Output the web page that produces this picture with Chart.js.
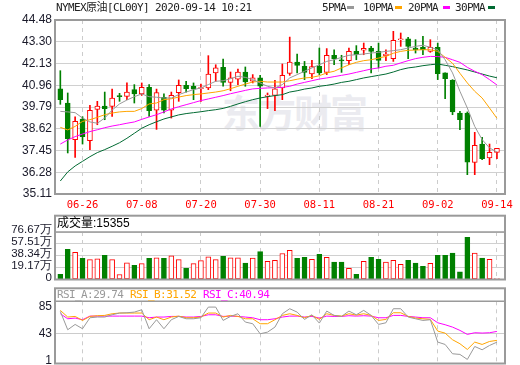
<!DOCTYPE html>
<html>
<head>
<meta charset="utf-8">
<script src="https://cdn.jsdelivr.net/npm/chart.js@4.4.1/dist/chart.umd.min.js"></script>
<style>
body { margin:0; background:#fff; width:520px; height:365px; overflow:hidden; position:relative; }
canvas { position:absolute; left:0; }
.t { position:absolute; white-space:nowrap; font-family:"DejaVu Sans Mono","Noto Sans CJK SC",monospace; font-size:11px; letter-spacing:-0.6px; line-height:12px; }
.sq { position:absolute; width:7px; height:3px; }
#wm { position:absolute; left:222px; top:83px; font:bold 38px "Noto Sans CJK SC"; color:#ebebf0; letter-spacing:-2px; }
</style>
</head>
<body>
<div id="wm">东方财富</div>
<canvas id="main" width="520" height="215" style="top:0"></canvas>
<canvas id="vol" width="520" height="75" style="top:210px"></canvas>
<canvas id="rsi" width="520" height="80" style="top:285px"></canvas>

<div class="t" style="left:56px;top:2px;color:#222">NYMEX原油[CL00Y] 2020-09-14 10:21</div>
<div class="t" style="left:322px;top:2px;color:#222">5PMA</div><div class="sq" style="left:347px;top:6px;background:#999"></div>
<div class="t" style="left:363px;top:2px;color:#222">10PMA</div><div class="sq" style="left:395px;top:6px;background:#ffa500"></div>
<div class="t" style="left:408px;top:2px;color:#222">20PMA</div><div class="sq" style="left:443px;top:6px;background:#ff00ff"></div>
<div class="t" style="left:455px;top:2px;color:#222">30PMA</div><div class="sq" style="left:488px;top:6px;background:#006a32"></div>

<div class="t" style="left:57px;top:217px;color:#000;font-family:'Liberation Sans','Noto Sans CJK SC';font-size:12px;letter-spacing:0">成交量:15355</div>

<div class="t" style="left:57px;top:289px;color:#999">RSI_A:29.74</div>
<div class="t" style="left:130px;top:289px;color:#ffa500">RSI_B:31.52</div>
<div class="t" style="left:203px;top:289px;color:#ff00ff">RSI_C:40.94</div>

<script>
// 数据
const tickIdx = [3, 11, 19, 27, 35, 43, 51, 59];
const tickLabels = ['06-26', '07-08', '07-20', '07-30', '08-11', '08-21', '09-02', '09-14'];
const priceTicks = [44.48, 43.30, 42.13, 40.96, 39.79, 38.62, 37.45, 36.28, 35.11];
const volTicks = [0, 19.17, 38.34, 57.51, 76.67];
const rsiTicks = [1, 43, 85];

const opens = [40.78,40.01,38.04,39.15,37.98,39.67,39.85,39.83,40.41,40.37, 40.73,40.50,40.85,39.63,40.32,39.62,40.57,40.96,40.91,40.78,
  40.82,41.63,41.93,41.12,41.29,41.68,41.18,41.36,40.37,40.42, 40.82,41.61,42.22,41.99,41.57,41.99,41.66,42.58,42.33,42.29,
  42.79,42.85,42.97,42.79,42.56,42.40,43.42,43.46,42.97,43.01, 42.79,43.01,41.63,41.23,39.47,39.47,36.81,37.80,37.05,37.35];
const highs = [41.75,40.55,39.26,39.27,39.88,40.10,40.60,40.76,40.53,41.09, 41.00,41.09,41.00,40.76,40.50,40.60,41.25,41.18,41.09,41.03,
  42.56,42.07,42.38,41.68,41.84,41.95,41.54,41.50,40.55,41.23, 42.11,43.56,42.65,42.25,42.31,42.97,42.94,42.88,42.58,42.97,
  43.10,43.24,43.06,43.24,42.88,43.87,43.78,43.55,43.42,43.60, 43.42,43.24,41.63,41.27,39.56,39.53,38.43,38.16,37.80,37.57];
const lows = [39.94,37.32,37.08,37.80,37.50,38.84,39.11,39.29,40.10,40.19, 40.01,40.42,39.29,38.59,39.47,39.20,40.10,40.60,40.19,40.10,
  40.73,41.18,40.91,40.67,41.00,40.91,41.09,38.75,39.71,39.60, 40.19,41.50,41.63,41.27,41.32,41.54,41.54,42.07,41.66,42.07,
  42.34,42.61,41.63,41.90,42.29,42.25,43.06,42.40,42.70,42.61, 42.74,41.27,40.24,39.38,38.57,36.15,36.15,36.96,36.69,37.01];
const closes = [40.19,38.09,39.02,38.20,39.62,39.85,39.71,40.28,40.35,40.60, 40.50,40.85,39.60,40.57,39.63,40.42,40.96,40.78,40.76,40.84,
  41.57,41.90,41.12,41.36,41.68,41.14,41.36,40.91,40.44,40.78, 41.50,42.22,42.04,41.66,41.97,41.63,42.58,42.40,42.27,42.79,
  42.61,42.95,42.79,42.31,42.65,43.38,43.46,43.06,42.88,42.88, 43.01,41.59,41.32,39.53,39.11,36.83,37.73,37.01,37.35,37.57];

const ma5 = [39.56,39.53,39.49,39.20,38.99,38.92,39.20,39.63,39.96,40.17, 40.35,40.50,40.35,40.32,40.28,40.28,40.46,40.60,40.73,40.82,
  41.00,41.18,41.21,41.32,41.45,41.39,41.27,41.09,40.91,40.82, 41.00,41.36,41.54,41.72,41.90,42.07,42.25,42.34,42.47,42.58,
  42.61,42.65,42.70,42.74,42.79,42.83,42.88,42.97,43.06,43.12, 43.01,42.88,42.34,41.63,40.64,39.74,38.75,38.04,37.59,37.37];
const ma10 = [38.70,38.56,38.75,39.02,39.11,39.24,39.38,39.47,39.53,39.56, 39.56,39.71,39.96,40.01,40.19,40.24,40.33,40.41,40.46,40.50,
  40.55,40.60,40.67,40.78,40.91,41.03,41.14,41.18,41.14,41.14, 41.14,41.21,41.29,41.36,41.39,41.48,41.63,41.72,41.90,42.07,
  42.20,42.29,42.34,42.43,42.52,42.69,42.79,42.85,42.86,42.88, 42.88,42.79,42.47,42.15,41.61,41.09,40.64,40.28,39.74,39.19];
const ma20 = [37.80,38.02,38.20,38.34,38.47,38.57,38.68,38.77,38.84,38.92, 38.99,39.13,39.26,39.38,39.53,39.69,39.81,39.92,40.03,40.14,
  40.23,40.32,40.41,40.51,40.60,40.69,40.77,40.80,40.82,40.84, 40.85,40.91,41.03,41.12,41.21,41.30,41.36,41.43,41.50,41.57,
  41.66,41.75,41.84,41.90,41.99,42.04,42.17,42.29,42.40,42.47, 42.52,42.51,42.47,42.34,42.20,41.93,41.72,41.54,41.27,40.98];
const ma30 = [35.81,36.30,36.62,36.87,37.12,37.34,37.50,37.68,37.87,38.11, 38.38,38.65,38.84,39.00,39.15,39.26,39.37,39.44,39.49,39.54,
  39.60,39.65,39.72,39.83,39.96,40.08,40.19,40.28,40.35,40.41, 40.46,40.60,40.67,40.76,40.82,40.91,40.96,41.03,41.12,41.18,
  41.27,41.36,41.43,41.50,41.57,41.68,41.81,41.90,41.95,42.02, 42.07,42.11,42.04,41.97,41.88,41.79,41.68,41.57,41.46,41.37];

// 成交量 (万)
const vol = [8.5,48.5,43.7,34,32,33.5,38.9,32,8,27, 23,25.6,34,35,34,38.3,32,18,25.6,30.4,
  36.7,32,37.3,35,35,26.6,34.6,45,29.3,30.9, 42,46.9,34,35.7,32.5,40.5,35.7,28.2,28.2,18,
  8.5,29.3,35.7,32.5,28.2,30.9,24.5,30.9,26.6,21.3, 26.1,38.9,38.9,42.6,12.2,68.2,42.6,34.6,32.5,1.54];
const volUp = [0,0,1,0,1,1,0,1,1,1, 0,1,0,1,0,1,1,0,1,1, 1,1,0,1,1,0,1,0,1,1,
  1,1,0,0,1,0,1,0,0,1, 0,1,0,0,1,1,1,0,0,0, 1,0,0,0,0,0,1,0,1,1];

const rsiA = [78.1,49.2,57.6,50.8,68.1,69.2,69.2,72.8,75.5,76.0, 77.0,80.7,50.8,65.0,50.8,65.0,70.2,66.5,66.5,68.1,
  84.9,84.9,63.9,70.2,74.4,61.3,58.7,42.9,45.5,53.4, 74.4,82.3,77.0,65.5,72.8,59.7,78.6,71.8,70.2,78.6,
  72.8,79.7,71.8,57.6,60.2,82.3,82.3,69.2,66.5,63.9, 65.0,29.8,26.1,11.4,10.4,2.5,22.9,17.7,24.5,29.7];
const rsiB = [79.7,69.2,70.2,63.9,70.2,71.3,71.8,74.4,75.5,75.5, 75.5,75.5,65.0,69.2,65.0,69.2,70.7,68.1,68.1,69.2,
  75.5,75.5,69.2,71.8,70.2,66.5,66.5,58.7,58.7,65.0, 71.8,74.4,71.8,68.1,71.8,65.5,74.4,71.8,70.7,74.4,
  72.3,74.4,71.8,63.9,65.5,76.0,76.0,70.2,67.6,66.5, 65.5,47.1,43.9,33.5,27.2,18.2,29.8,26.1,30.8,32.5];
const rsiC = [74.4,66.5,67.6,65.0,70.7,70.7,70.7,70.7,70.7,70.7, 70.7,70.7,68.1,69.2,69.2,70.2,70.2,69.2,69.2,70.2,
  72.8,72.8,70.2,70.7,70.2,69.2,68.1,65.0,65.0,66.5, 69.2,70.7,70.7,69.2,70.2,67.6,70.7,70.2,70.2,71.3,
  70.7,71.3,70.7,68.1,68.1,71.8,71.8,70.2,69.2,68.1, 68.1,60.2,57.1,53.4,48.2,41.9,44.5,44.0,44.5,46.6];

const RED = '#ff0000', GREEN = '#008000';
const idx = opens.map((_, i) => i);
const isDown = i => i !== undefined && closes[i] < opens[i];

Chart.defaults.font.family = 'Liberation Sans';
Chart.defaults.animation = false;
Chart.defaults.events = [];

// 外框
const boxPlugin = {
  id: 'box',
  afterDraw(chart, args, opts) {
    const { ctx, chartArea: a } = chart;
    const head = opts.head || 0;
    ctx.save();
    ctx.strokeStyle = '#9a9a9a';
    ctx.lineWidth = 2;
    ctx.strokeRect(a.left, a.top - head, a.right - a.left, a.bottom - a.top + head);
    if (head) {
      ctx.lineWidth = 1.5;
      ctx.beginPath();
      ctx.moveTo(a.left, a.top);
      ctx.lineTo(a.right, a.top);
      ctx.stroke();
    }
    ctx.restore();
  }
};

function xAxis(showLabels) {
  return {
    type: 'linear', min: -0.72, max: 60.09, offset: false,
    grid: { color: '#cccccc', drawTicks: false, offset: false },
    border: { display: false, dash: [4, 4] },
    afterBuildTicks: s => { s.ticks = tickIdx.map(v => ({ value: v })); },
    afterFit: s => { s.height = showLabels ? 21 : 0; s.paddingLeft = 0; s.paddingRight = 0; },
    ticks: {
      display: showLabels, autoSkip: false, maxRotation: 0, padding: 5, color: RED,
      font: { family: 'DejaVu Sans Mono', size: 10.5 },
      callback: v => tickLabels[tickIdx.indexOf(v)]
    }
  };
}

function yAxis(min, max, vals, fmt, gridColor, labelOffset, size) {
  return {
    min: min, max: max,
    grid: { color: gridColor, drawTicks: false },
    border: { display: false },
    afterBuildTicks: s => { s.ticks = vals.map(v => ({ value: v })); },
    // 固定宽度, 不让标签撑开绘图区
    afterFit: s => { s.width = 55; s.paddingTop = 0; s.paddingBottom = 0; },
    ticks: { color: '#1a1a2a', padding: 3, autoSkip: false, labelOffset: labelOffset, font: { size: size }, callback: fmt }
  };
}

function maLine(data, color) {
  return {
    type: 'line', data: idx.map(i => ({ x: i, y: data[i] })),
    borderColor: color, borderWidth: 1, pointRadius: 0, tension: 0, order: 1
  };
}

// 主图: K线 + 均线
new Chart(document.getElementById('main'), {
  type: 'bar',
  data: {
    datasets: [
      {
        data: idx.map(i => ({ x: i, y: [lows[i], highs[i]] })),
        backgroundColor: c => isDown(c.dataIndex) ? GREEN : RED,
        barThickness: 1, grouped: false, order: 3
      },
      {
        data: idx.map(i => ({ x: i, y: [opens[i], closes[i]] })),
        backgroundColor: c => isDown(c.dataIndex) ? GREEN : '#ffffff',
        borderColor: c => isDown(c.dataIndex) ? GREEN : RED,
        borderWidth: 1, borderSkipped: false,
        barThickness: 5, grouped: false, order: 2
      },
      maLine(ma5, '#999999'),
      maLine(ma10, '#ffa500'),
      maLine(ma20, '#ff00ff'),
      maLine(ma30, '#006a32')
    ]
  },
  options: {
    responsive: false,
    devicePixelRatio: 1,
    layout: { autoPadding: false, padding: { top: 20, right: 15, left: 0, bottom: 0 } },
    plugins: { legend: { display: false }, tooltip: { enabled: false }, box: { head: 0 } },
    scales: {
      x: xAxis(true),
      y: yAxis(35.11, 44.48, priceTicks, v => v.toFixed(2), '#d0d0d0', 0, 12)
    }
  },
  plugins: [boxPlugin]
});

// 成交量
new Chart(document.getElementById('vol'), {
  type: 'bar',
  data: {
    datasets: [{
      data: idx.map(i => ({ x: i, y: vol[i] })),
      backgroundColor: c => volUp[c.dataIndex] ? '#ffffff' : GREEN,
      borderColor: c => volUp[c.dataIndex] ? RED : GREEN,
      borderWidth: 1, borderSkipped: false,
      barThickness: 5, grouped: false
    }]
  },
  options: {
    responsive: false,
    devicePixelRatio: 1,
    layout: { autoPadding: false, padding: { top: 22, right: 15, left: 0, bottom: 5.5 } },
    plugins: { legend: { display: false }, tooltip: { enabled: false }, box: { head: 16.3 } },
    scales: {
      x: xAxis(false),
      y: yAxis(0, 76.67, volTicks, v => v === 0 ? '0' : v.toFixed(2) + '万', '#d0d0d0', -2, 11.5)
    }
  },
  plugins: [boxPlugin]
});

// RSI
new Chart(document.getElementById('rsi'), {
  type: 'line',
  data: {
    datasets: [
      maLine(rsiA, '#999999'),
      maLine(rsiB, '#ffa500'),
      maLine(rsiC, '#ff00ff')
    ]
  },
  options: {
    responsive: false,
    devicePixelRatio: 1,
    layout: { autoPadding: false, padding: { top: 16.3, right: 15, left: 0, bottom: 1.5 } },
    plugins: { legend: { display: false }, tooltip: { enabled: false }, box: { head: 13 } },
    scales: {
      x: xAxis(false),
      y: yAxis(-3.9, 94, rsiTicks, v => String(v),
        c => (c.tick && c.tick.value === 43) ? '#cccccc' : 'rgba(0,0,0,0)', 0, 12)
    }
  },
  plugins: [boxPlugin]
});
</script>
</body>
</html>
